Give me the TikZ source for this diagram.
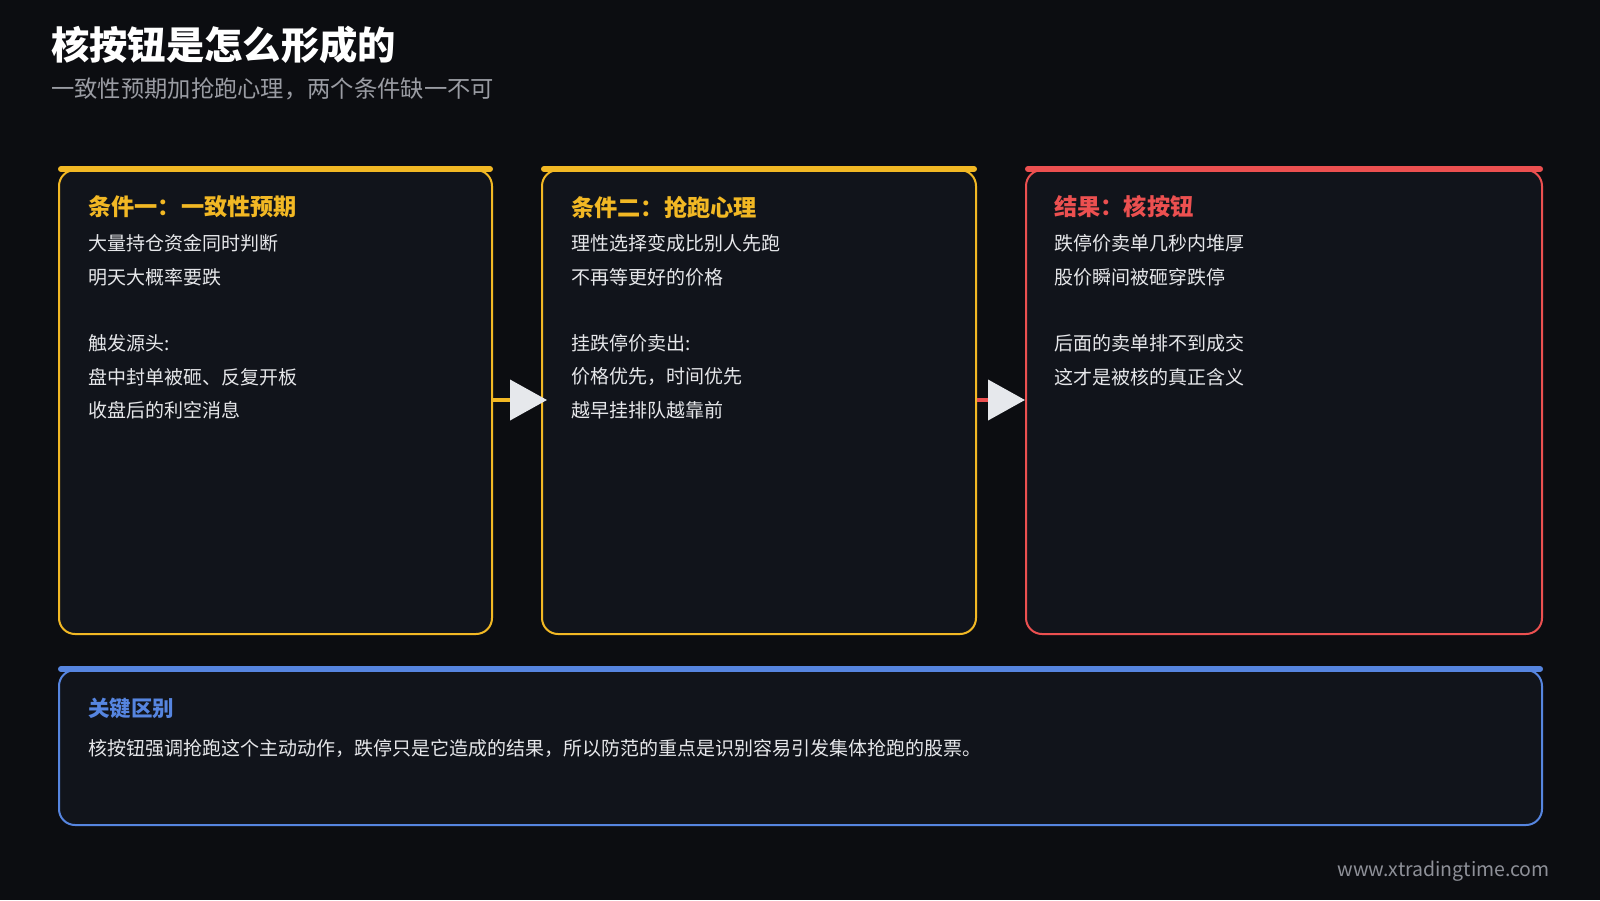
\documentclass[tikz,border=0pt]{standalone}
\usepackage{fontspec}
\setmainfont{Noto Sans CJK SC}
\usetikzlibrary{arrows.meta}
\definecolor{bgc}{HTML}{0C0D11}
\definecolor{boxc}{HTML}{11141B}
\definecolor{ylw}{HTML}{F2B824}
\definecolor{redc}{HTML}{EC5050}
\definecolor{bluec}{HTML}{5685E0}
\definecolor{bodyc}{HTML}{E6E7EA}
\definecolor{subc}{HTML}{9A9CA3}
\definecolor{tipc}{HTML}{E6E8EC}
\definecolor{footc}{HTML}{8E9098}
\tikzset{
  panel/.style={draw=#1, line width=2pt, fill=boxc, rounded corners=16pt, anchor=north west, inner sep=0pt},
  topbar/.style={draw=#1, line width=6pt, line cap=round},
  head/.style={text=#1, anchor=west, inner sep=0pt, font=\fontsize{23.2}{27}\selectfont\bfseries},
  body/.style={text=bodyc, anchor=west, inner sep=0pt, font=\fontsize{19}{23}\selectfont},
  flow/.style={draw=#1, line width=4pt, -{Triangle[length=37pt,width=40pt,color=tipc,fill=tipc]}},
}
\begin{document}
\begin{tikzpicture}[x=1pt,y=-1pt]
\useasboundingbox (0,0) rectangle (1600,900);
\fill[bgc] (0,0) rectangle (1600,900);

% title
\node[anchor=west, inner sep=0pt, text=white, font=\fontsize{38.3}{44}\selectfont\bfseries] (title) at (51,45) {核按钮是怎么形成的};
\node[anchor=west, inner sep=0pt, text=subc, font=\fontsize{23.3}{28}\selectfont] (subtitle) at (51,89) {一致性预期加抢跑心理，两个条件缺一不可};

% panels
\node[panel=ylw, minimum width=433pt, minimum height=464pt] (b1) at (58,169) {};
\node[panel=ylw, minimum width=434pt, minimum height=464pt] (b2) at (541,169) {};
\node[panel=redc, minimum width=516pt, minimum height=464pt] (b3) at (1025,169) {};
\node[panel=bluec, minimum width=1483pt, minimum height=155pt] (b4) at (58,669) {};

\draw[topbar=ylw] ([xshift=3pt]b1.north west) -- ([xshift=-3pt]b1.north east);
\draw[topbar=ylw] ([xshift=3pt]b2.north west) -- ([xshift=-3pt]b2.north east);
\draw[topbar=redc] ([xshift=3pt]b3.north west) -- ([xshift=-3pt]b3.north east);
\draw[topbar=bluec] ([xshift=3pt]b4.north west) -- ([xshift=-3pt]b4.north east);

% panel 1
\node[head=ylw] (h1) at (88,207) {条件一：一致性预期};
\node[body] (t11) at (88,243) {大量持仓资金同时判断};
\node[body] (t12) at (88,277) {明天大概率要跌};
\node[body] (t13) at (88,343) {触发源头:};
\node[body] (t14) at (88,377) {盘中封单被砸、反复开板};
\node[body] (t15) at (88,410) {收盘后的利空消息};

% panel 2
\node[head=ylw] (h2) at (571,207) {条件二：抢跑心理};
\node[body] (t21) at (571,243) {理性选择变成比别人先跑};
\node[body] (t22) at (571,277) {不再等更好的价格};
\node[body] (t23) at (571,343) {挂跌停价卖出:};
\node[body] (t24) at (571,377) {价格优先，时间优先};
\node[body] (t25) at (571,410) {越早挂排队越靠前};

% panel 3
\node[head=redc] (h3) at (1054,207) {结果：核按钮};
\node[body] (t31) at (1054,243) {跌停价卖单几秒内堆厚};
\node[body] (t32) at (1054,277) {股价瞬间被砸穿跌停};
\node[body] (t33) at (1054,343) {后面的卖单排不到成交};
\node[body] (t34) at (1054,377) {这才是被核的真正含义};

% panel 4
\node[text=bluec, anchor=west, inner sep=0pt, font=\fontsize{21.5}{24}\selectfont\bfseries] (h4) at (88,708) {关键区别};
\node[body] (t41) at (88,748) {核按钮强调抢跑这个主动动作，跌停只是它造成的结果，所以防范的重点是识别容易引发集体抢跑的股票。};

% connectors
\coordinate (a1s) at (b1.east |- 0,400);
\coordinate (a1e) at ([xshift=6pt]b2.west |- 0,400);
\coordinate (a2s) at (b2.east |- 0,400);
\coordinate (a2e) at (b3.west |- 0,400);
\draw[flow=ylw] (a1s) -- (a1e);
\draw[flow=redc] (a2s) -- (a2e);

% footer
\node[anchor=east, inner sep=0pt, text=footc, font=\fontsize{19.5}{22}\selectfont] (foot) at (1550,871) {www.xtradingtime.com};
\end{tikzpicture}
\end{document}
